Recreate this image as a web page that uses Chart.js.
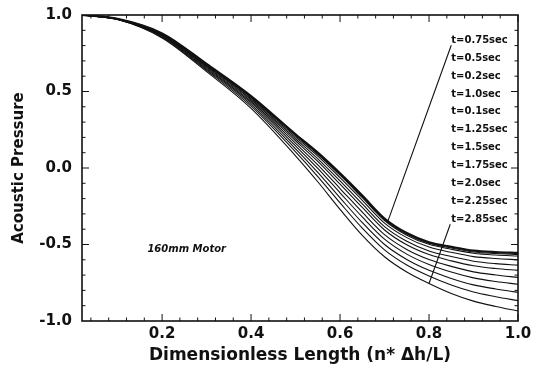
<!DOCTYPE html>
<html>
<head>
<meta charset="utf-8">
<script src="https://cdn.jsdelivr.net/npm/chart.js@4.4.1/dist/chart.umd.min.js"></script>
<style>
  html, body { margin: 0; padding: 0; background: #fff; }
  #wrap { width: 540px; height: 367px; }
</style>
</head>
<body>
<div id="wrap"><canvas id="chart" width="540" height="367"></canvas></div>
<script>
// --- Data ---
const xPos = [0.02, 0.1, 0.2, 0.3, 0.4, 0.5, 0.55, 0.6, 0.65, 0.7, 0.75, 0.8, 0.85, 0.9, 0.95, 1.0];

const p075 = [1.0, 0.975, 0.88, 0.68, 0.47, 0.22, 0.10, -0.035, -0.18, -0.33, -0.425, -0.485, -0.515, -0.54, -0.55, -0.555];
const p050 = [1.0, 0.975, 0.879, 0.679, 0.468, 0.216, 0.095, -0.041, -0.187, -0.337, -0.432, -0.492, -0.523, -0.549, -0.559, -0.565];
const p020 = [1.0, 0.975, 0.878, 0.677, 0.466, 0.213, 0.09, -0.047, -0.194, -0.343, -0.439, -0.499, -0.531, -0.557, -0.569, -0.575];
const p100 = [1.0, 0.974, 0.876, 0.674, 0.461, 0.203, 0.078, -0.063, -0.211, -0.36, -0.455, -0.517, -0.551, -0.579, -0.592, -0.6];
const p010 = [1.0, 0.974, 0.874, 0.67, 0.453, 0.191, 0.06, -0.084, -0.235, -0.383, -0.479, -0.542, -0.579, -0.609, -0.625, -0.635];
const p125 = [1.0, 0.973, 0.871, 0.665, 0.446, 0.178, 0.043, -0.106, -0.258, -0.405, -0.502, -0.566, -0.607, -0.639, -0.657, -0.669];
const p150 = [1.0, 0.973, 0.867, 0.659, 0.436, 0.161, 0.02, -0.134, -0.289, -0.435, -0.532, -0.598, -0.643, -0.679, -0.699, -0.715];
const p175 = [1.0, 0.972, 0.864, 0.653, 0.427, 0.144, -0.003, -0.162, -0.32, -0.465, -0.563, -0.631, -0.68, -0.718, -0.742, -0.76];
const p200 = [1.0, 0.972, 0.86, 0.646, 0.416, 0.125, -0.029, -0.195, -0.357, -0.5, -0.598, -0.669, -0.722, -0.764, -0.791, -0.813];
const p225 = [1.0, 0.971, 0.855, 0.639, 0.404, 0.105, -0.056, -0.228, -0.393, -0.535, -0.634, -0.706, -0.765, -0.811, -0.841, -0.867];
const p285 = [1.0, 0.97, 0.85, 0.63, 0.39, 0.08, -0.09, -0.27, -0.44, -0.58, -0.68, -0.755, -0.82, -0.87, -0.905, -0.935];

const tLabels = ['t=0.75sec', 't=0.5sec', 't=0.2sec', 't=1.0sec', 't=0.1sec', 't=1.25sec',
                 't=1.5sec', 't=1.75sec', 't=2.0sec', 't=2.25sec', 't=2.85sec'];
const seriesList = [p075, p050, p020, p100, p010, p125, p150, p175, p200, p225, p285];

const xTicks = [0.2, 0.4, 0.6, 0.8, 1.0];
const yTicks = [-1.0, -0.5, 0.0, 0.5, 1.0];

const motorNote = '160mm Motor';
const FONT = "'DejaVu Sans', 'Liberation Sans', Arial, sans-serif";

// --- Frame, inward ticks and annotations ---
const framePlugin = {
  id: 'frame',
  afterDraw(chart) {
    const { ctx, chartArea: a, scales: { x, y } } = chart;
    ctx.save();
    ctx.strokeStyle = '#111';
    ctx.lineWidth = 1.6;
    ctx.strokeRect(a.left, a.top, a.right - a.left, a.bottom - a.top);

    ctx.lineWidth = 1;
    ctx.beginPath();
    // x ticks every 0.04, major every 0.2
    for (let i = 1; i <= 25; i++) {
      const px = x.getPixelForValue(i * 0.04);
      const len = i % 5 === 0 ? 7 : 3.5;
      ctx.moveTo(px, a.bottom); ctx.lineTo(px, a.bottom - len);
      ctx.moveTo(px, a.top); ctx.lineTo(px, a.top + len);
    }
    // y ticks every 0.1, major every 0.5
    for (let i = -9; i <= 9; i++) {
      const py = y.getPixelForValue(i / 10);
      const len = i % 5 === 0 ? 7 : 3.5;
      ctx.moveTo(a.left, py); ctx.lineTo(a.left + len, py);
      ctx.moveTo(a.right, py); ctx.lineTo(a.right - len, py);
    }
    ctx.stroke();

    // time labels
    ctx.fillStyle = '#111';
    ctx.font = 'bold 10px ' + FONT;
    ctx.textBaseline = 'middle';
    ctx.textAlign = 'left';
    const lx = x.getPixelForValue(0.85);
    const yTop = y.getPixelForValue(0.835);
    const step = 17.9;
    tLabels.forEach((t, i) => ctx.fillText(t, lx, yTop + i * step));

    // leader lines
    ctx.lineWidth = 1.1;
    ctx.beginPath();
    ctx.moveTo(lx, yTop + 5);
    ctx.lineTo(x.getPixelForValue(0.707), y.getPixelForValue(-0.352));
    const yLast = yTop + 10 * step;
    ctx.moveTo(lx - 1, yLast + 5);
    ctx.lineTo(x.getPixelForValue(0.80), y.getPixelForValue(-0.755));
    ctx.stroke();

    // motor note
    ctx.font = 'italic bold 10px ' + FONT;
    ctx.fillText(motorNote, x.getPixelForValue(0.167), y.getPixelForValue(-0.53));
    ctx.restore();
  }
};

// --- Chart ---
const datasets = seriesList.map((arr, k) => ({
  label: tLabels[k],
  data: xPos.map((xv, i) => ({ x: xv, y: arr[i] })),
  borderColor: '#111',
  borderWidth: k === 0 ? 2.2 : 1.1,
  pointRadius: 0,
  fill: false,
  cubicInterpolationMode: 'monotone'
}));

new Chart(document.getElementById('chart').getContext('2d'), {
  type: 'line',
  data: { datasets },
  options: {
    responsive: false,
    animation: false,
    layout: { padding: { top: 15, right: 22, left: 0, bottom: 0 } },
    plugins: { legend: { display: false }, tooltip: { enabled: false } },
    scales: {
      x: {
        type: 'linear',
        min: 0.02,
        max: 1.0,
        grid: { display: false, drawTicks: false },
        border: { display: false },
        afterBuildTicks: (s) => { s.ticks = xTicks.map(v => ({ value: v })); },
        afterFit: (s) => { s.height = 46; s.paddingLeft = 0; s.paddingRight = 0; },
        ticks: {
          color: '#111',
          padding: 4,
          maxRotation: 0,
          font: { family: FONT, weight: 'bold', size: 15 },
          callback: (v) => Number(v).toFixed(1)
        },
        title: {
          display: true,
          text: 'Dimensionless Length (n* \u0394h/L)',
          color: '#111',
          font: { family: FONT, weight: 'bold', size: 17 },
          padding: { top: 0, bottom: 1 }
        }
      },
      y: {
        min: -1,
        max: 1,
        grid: { display: false, drawTicks: false },
        border: { display: false },
        afterBuildTicks: (s) => { s.ticks = yTicks.map(v => ({ value: v })); },
        afterFit: (s) => { s.width = 82; s.paddingTop = 0; s.paddingBottom = 0; },
        ticks: {
          color: '#111',
          padding: 10,
          font: { family: FONT, weight: 'bold', size: 15 },
          callback: (v) => Number(v).toFixed(1)
        },
        title: {
          display: true,
          text: 'Acoustic Pressure',
          color: '#111',
          font: { family: FONT, weight: 'bold', size: 15 },
          padding: { top: 10, bottom: 0 }
        }
      }
    }
  },
  plugins: [framePlugin]
});
</script>
</body>
</html>
